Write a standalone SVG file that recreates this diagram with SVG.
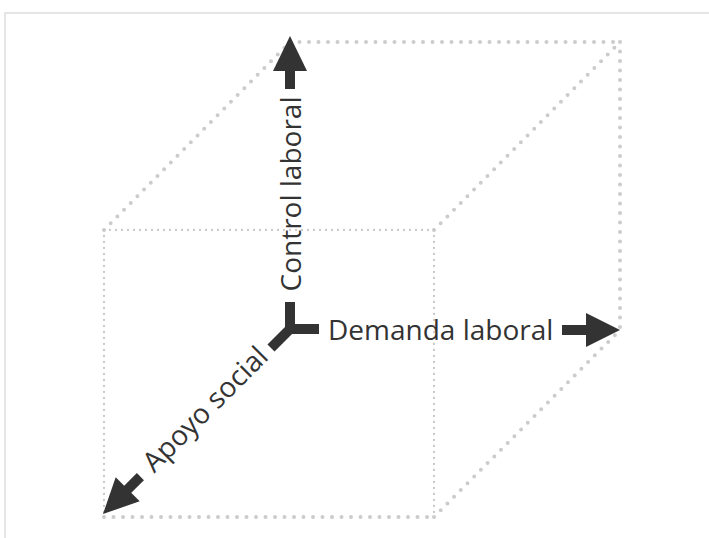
<svg xmlns="http://www.w3.org/2000/svg" width="709" height="538" viewBox="0 0 709 538">
  <style>
    .frame { fill: none; stroke: #dddddd; stroke-width: 1.5; }
    .big { fill: none; stroke: #cccccc; stroke-width: 4; stroke-linecap: round; stroke-dasharray: 0 9.5; }
    .small { fill: none; stroke: #c8c8c8; stroke-width: 2.3; stroke-linecap: round; stroke-dasharray: 0 6; }
    .shaft { fill: none; stroke: #333333; stroke-width: 10; stroke-linecap: butt; }
    .head { fill: #333333; stroke: none; }
    .lbl { font-family: "Open Sans", "Liberation Sans", sans-serif; font-size: 28px; fill: #333333; }
  </style>
  <rect width="709" height="538" fill="#ffffff"/>
  <rect class="frame" x="5" y="13" width="720" height="540"/>

  <g id="cube">
    <!-- back face -->
    <line class="big" x1="290" y1="42" x2="620" y2="42"/>
    <line class="big" x1="620" y1="42" x2="620" y2="330"/>
    <!-- depth edges -->
    <line class="big" x1="104" y1="230" x2="290" y2="42"/>
    <line class="big" x1="434" y1="230" x2="620" y2="42"/>
    <line class="big" x1="434" y1="517" x2="620" y2="330"/>
    <!-- front face -->
    <line class="small" x1="104" y1="230" x2="434" y2="230"/>
    <line class="small" x1="104" y1="230" x2="104" y2="517"/>
    <line class="small" x1="434" y1="230" x2="434" y2="517"/>
    <line class="big" x1="104" y1="517" x2="434" y2="517"/>
  </g>

  <g id="connectors">
    <g id="origin">
      <line class="shaft" x1="290" y1="302" x2="290" y2="334"/>
      <line class="shaft" x1="290" y1="329" x2="319" y2="329"/>
      <line class="shaft" x1="293" y1="326" x2="271" y2="348"/>
    </g>
    <g id="axis-control">
      <line class="shaft" x1="290" y1="70" x2="290" y2="89"/>
      <polygon class="head" points="290,36 273,71 307,71"/>
    </g>
    <g id="axis-demanda">
      <line class="shaft" x1="562" y1="330" x2="588" y2="330"/>
      <polygon class="head" points="620,330 586,313 586,347"/>
    </g>
    <g id="axis-apoyo">
      <line class="shaft" x1="127" y1="490" x2="140.4" y2="476.6"/>
      <polygon class="head" points="103,514 139.7,501.3 115.7,477.3"/>
    </g>
  </g>

  <g id="label-control">
    <text class="lbl" text-anchor="middle" transform="translate(301,194) rotate(-90)">Control laboral</text>
  </g>
  <g id="label-demanda">
    <text class="lbl" x="328" y="340">Demanda laboral</text>
  </g>
  <g id="label-apoyo">
    <text class="lbl" text-anchor="middle" transform="translate(212,416) rotate(-45)">Apoyo social</text>
  </g>
</svg>
